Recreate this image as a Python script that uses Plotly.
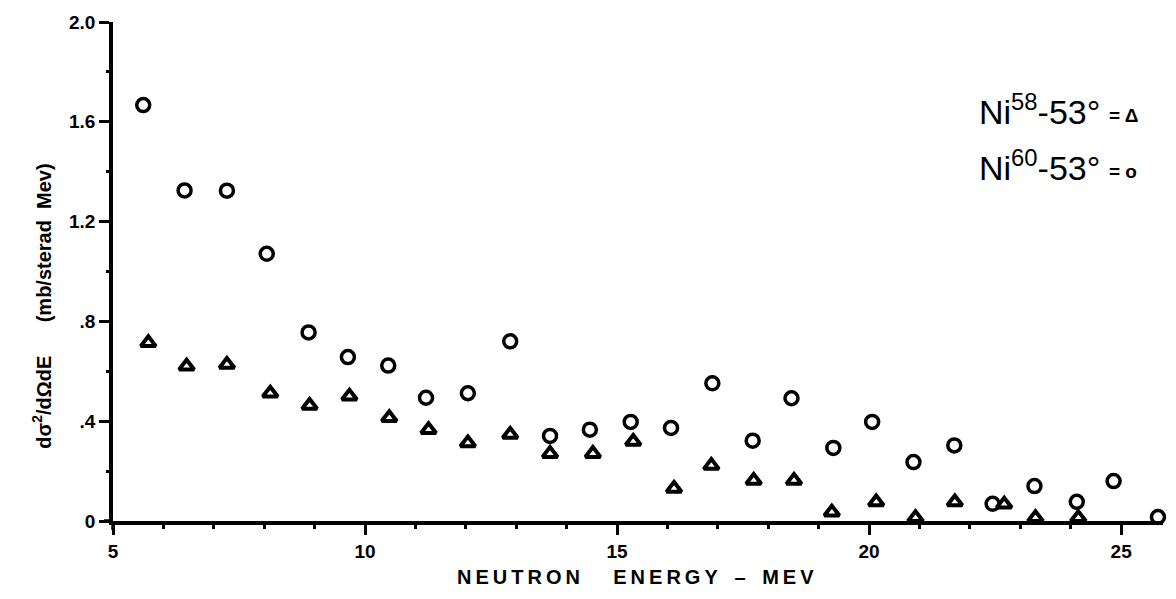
import plotly.graph_objects as go

# Ni-60 at 53 degrees (open circles)
ni60_energy = [5.60, 6.42, 7.26, 8.05, 8.88, 9.66, 10.46, 11.21, 12.04, 12.88,
               13.67, 14.46, 15.27, 16.07, 16.89, 17.69, 18.46, 19.29, 20.06, 20.88,
               21.69, 22.45, 23.28, 24.12, 24.85, 25.73]
ni60_xs = [1.667, 1.325, 1.324, 1.071, 0.756, 0.657, 0.623, 0.494, 0.512, 0.720,
           0.341, 0.366, 0.397, 0.373, 0.552, 0.322, 0.492, 0.293, 0.397, 0.236,
           0.303, 0.069, 0.140, 0.077, 0.160, 0.016]

# Ni-58 at 53 degrees (triangles)
ni58_energy = [5.70, 6.46, 7.26, 8.12, 8.90, 9.69, 10.48, 11.26, 12.04, 12.88,
               13.67, 14.52, 15.32, 16.13, 16.87, 17.71, 18.51, 19.26, 20.14, 20.92,
               21.70, 22.68, 23.30, 24.15]
ni58_xs = [0.714, 0.620, 0.627, 0.512, 0.463, 0.500, 0.414, 0.366, 0.313, 0.347,
           0.270, 0.270, 0.319, 0.130, 0.222, 0.162, 0.162, 0.035, 0.076, 0.013,
           0.076, 0.067, 0.013, 0.013]

x_tickvals = [5, 10, 15, 20, 25]
x_ticktext = ["5", "10", "15", "20", "25"]
y_tickvals = [0, 0.4, 0.8, 1.2, 1.6, 2.0]
y_ticktext = ["0", ".4", ".8", "1.2", "1.6", "2.0"]

W, H = 1176, 599
L, R, T, B = 113, 13, 18, 78

fig = go.Figure()
fig.add_trace(go.Scatter(
    x=ni58_energy, y=ni58_xs, mode="markers",
    marker=dict(symbol="triangle-up-open", size=13, color="black",
                line=dict(width=4, color="black")),
    cliponaxis=False, showlegend=False))
fig.add_trace(go.Scatter(
    x=ni60_energy, y=ni60_xs, mode="markers",
    marker=dict(symbol="circle-open", size=13, color="black",
                line=dict(width=3.5, color="black")),
    cliponaxis=False, showlegend=False))

tickfont = dict(family="Liberation Sans", size=19, color="black")

fig.update_layout(
    width=W, height=H,
    margin=dict(l=L, r=R, t=T, b=B),
    paper_bgcolor="white", plot_bgcolor="white",
    xaxis=dict(range=[5, 25.83], showgrid=False, zeroline=False,
               showline=True, linewidth=3.5, linecolor="black",
               ticks="outside", ticklen=10, tickwidth=3, tickcolor="black",
               tickvals=x_tickvals, ticktext=["<b>%s</b>" % t for t in x_ticktext],
               tickfont=tickfont,
               minor=dict(dtick=1, tick0=5, ticks="outside", ticklen=4,
                          tickwidth=2.5, tickcolor="black")),
    yaxis=dict(range=[0, 2.0], showgrid=False, zeroline=False,
               showline=True, linewidth=3.5, linecolor="black",
               ticks="outside", ticklen=10, tickwidth=3, tickcolor="black",
               tickvals=y_tickvals, ticktext=["<b>%s</b>" % t for t in y_ticktext],
               tickfont=tickfont,
               minor=dict(dtick=0.2, tick0=0, ticks="outside", ticklen=3,
                          tickwidth=2.5, tickcolor="black")),
)

def px(xp):
    return (xp - L) / (W - L - R)

def py(yp):
    return (H - B - yp) / (H - T - B)

# axis cross at the origin (small overshoot of both axis lines)
fig.add_shape(type="line", xref="paper", yref="paper",
              x0=px(104), x1=px(113), y0=0, y1=0,
              line=dict(color="black", width=3.5))
fig.add_shape(type="line", xref="paper", yref="paper",
              x0=0, x1=0, y0=py(521), y1=py(530),
              line=dict(color="black", width=3.5))

sp = "\u2009"
xtitle = ("<b>" + sp.join("NEUTRON") + "\u00a0\u00a0\u00a0\u00a0\u00a0\u00a0" + sp.join("ENERGY")
          + "\u00a0\u00a0\u00a0–\u00a0\u00a0\u00a0" + sp.join("MEV") + "</b>")
fig.add_annotation(x=px(635), y=py(577), xref="paper", yref="paper",
                   xanchor="center", yanchor="middle",
                   text=xtitle, showarrow=False,
                   font=dict(family="Liberation Sans", size=20, color="black"))

ytitle = "<b>dσ<sup>2</sup>/dΩdE\u00a0\u00a0\u00a0\u00a0\u00a0\u00a0(mb/sterad\u00a0\u00a0Mev)</b>"
fig.add_annotation(x=px(42), y=py(305), xref="paper", yref="paper",
                   xanchor="center", yanchor="middle",
                   text=ytitle, showarrow=False, textangle=-90,
                   font=dict(family="Liberation Sans", size=20, color="black"))

legfont = dict(family="Liberation Sans", size=34, color="black")
fig.add_annotation(x=px(1102), y=py(106), xref="paper", yref="paper",
                   xanchor="right", yanchor="middle",
                   text="Ni<sup>58</sup>-53°", showarrow=False, font=legfont)
fig.add_annotation(x=px(1102), y=py(163), xref="paper", yref="paper",
                   xanchor="right", yanchor="middle",
                   text="Ni<sup>60</sup>-53°", showarrow=False, font=legfont)
fig.add_annotation(x=px(1107), y=py(112), xref="paper", yref="paper",
                   xanchor="left", yanchor="middle", text="<b>= Δ</b>", showarrow=False,
                   font=dict(family="Liberation Sans", size=19, color="black"))
fig.add_annotation(x=px(1107), y=py(169), xref="paper", yref="paper",
                   xanchor="left", yanchor="middle", text="<b>= o</b>", showarrow=False,
                   font=dict(family="Liberation Sans", size=19, color="black"))

fig.write_html("out.html")
